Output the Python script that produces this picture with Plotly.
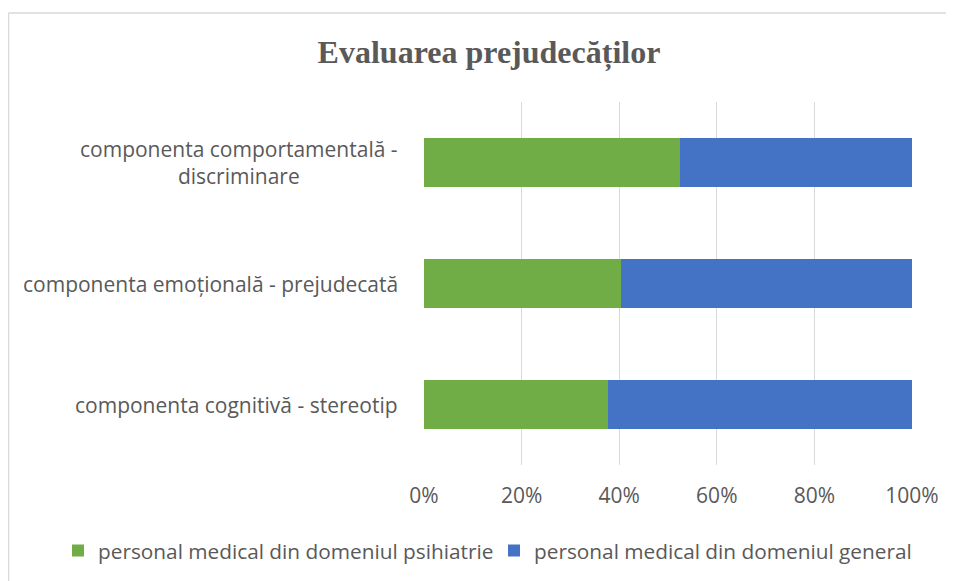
import plotly.graph_objects as go

# Data (percent of each row).
categories = [
    "componenta cognitivă - stereotip",
    "componenta emoțională - prejudecată",
    "componenta comportamentală -<br>discriminare",
]
psihiatrie = [37.7, 40.4, 52.5]
general = [62.3, 59.6, 47.5]
series_names = [
    "personal medical din domeniul psihiatrie",
    "personal medical din domeniul general",
]
x_ticks = [0, 20, 40, 60, 80, 100]
x_tick_labels = ["0%", "20%", "40%", "60%", "80%", "100%"]

GREEN = "#70AD47"
BLUE = "#4472C4"
TEXT = "#595959"
FONT = "Open Sans"

# The page body adds an 8px offset, so the figure is 8px smaller than the window.
W, H = 946, 573
L, R, T, B = 416, 42, 94, 116


def main():
    fig = go.Figure()
    for name, values, color in [(series_names[0], psihiatrie, GREEN),
                                (series_names[1], general, BLUE)]:
        fig.add_trace(go.Bar(
            y=categories, x=values, name=name, orientation="h",
            marker=dict(color=color, line=dict(width=0)),
        ))

    # Category labels as annotations so multi-line text is centred.
    for cat in categories:
        fig.add_annotation(
            x=0, xref="paper", xanchor="right", xshift=-24,
            y=cat, yref="y", text=cat, showarrow=False, align="center",
            font=dict(family=FONT, size=21, color=TEXT),
        )

    pw = W - L - R
    ph = H - T - B
    # Outer chart border: only the top and left edges are in view.
    x_left = (0.5 - L) / pw
    x_right = (W - L) / pw
    y_top = (ph + T - 5) / ph
    y_bottom = (ph + T - H) / ph
    border = dict(color="#D9D9D9", width=1.5)
    fig.add_shape(type="line", xref="paper", yref="paper",
                  x0=x_left, x1=x_right, y0=y_top, y1=y_top, line=border)
    fig.add_shape(type="line", xref="paper", yref="paper",
                  x0=x_left, x1=x_left, y0=y_bottom, y1=y_top, line=border)

    fig.update_layout(
        barmode="stack",
        bargap=0.587,
        width=W, height=H,
        margin=dict(l=L, r=R, t=T, b=B, autoexpand=False),
        paper_bgcolor="white", plot_bgcolor="white",
        title=dict(text="<b>Evaluarea prejudecăților</b>", x=481 / W,
                   xref="container", xanchor="center", y=1 - 44 / H, yanchor="middle",
                   font=dict(family="Liberation Serif", size=32, color=TEXT)),
        legend=dict(orientation="h", x=(50 - L) / pw, xanchor="left",
                    y=(T + ph - 543) / ph, yanchor="middle",
                    font=dict(family=FONT, size=20.8, color=TEXT),
                    itemwidth=30, entrywidth=391, entrywidthmode="pixels",
                    traceorder="normal"),
        showlegend=True,
    )
    fig.update_xaxes(range=[0, 100], tickvals=x_ticks, ticktext=x_tick_labels,
                     showgrid=True, gridcolor="#D9D9D9", gridwidth=1,
                     zeroline=False, showline=False, ticks="",
                     ticklabelstandoff=16,
                     tickfont=dict(family=FONT, size=21, color=TEXT))
    fig.update_yaxes(showticklabels=False, showgrid=False, zeroline=False,
                     showline=False, ticks="")
    fig.write_html("out.html")


if __name__ == "__main__":
    main()
